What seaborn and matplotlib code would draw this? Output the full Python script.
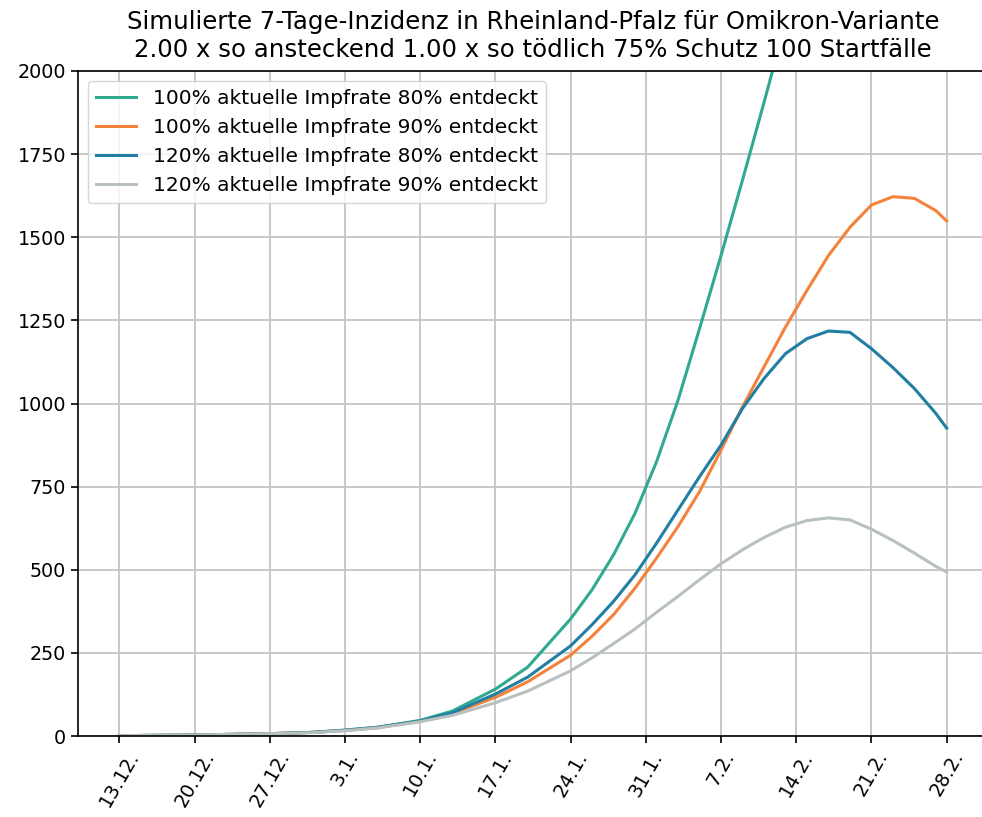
import numpy as np
import pandas as pd
import matplotlib
matplotlib.use("Agg")
import matplotlib.pyplot as plt
import seaborn as sns

# ---- data ----
start_date = "2021-12-13"
days = [0, 7, 14, 18, 21, 24, 28, 31, 35, 38, 42, 44, 46, 48, 50, 52, 54, 56, 58, 60,
        62, 64, 66, 68, 70, 72, 74, 76, 77]

green_100_80 = [1, 3, 7, 11, 18, 26, 47, 75, 141, 207, 352, 440, 545, 670, 825, 1010, 1225,
                1445, 1672, 1905, 2145,
                np.nan, np.nan, np.nan, np.nan, np.nan, np.nan, np.nan, np.nan]
orange_100_90 = [1, 3, 7, 11, 17, 25, 44, 68, 116, 163, 243, 300, 365, 445, 535, 630, 735,
                 860, 990, 1110, 1230, 1340, 1445, 1530, 1597, 1622, 1617, 1580, 1549]
blue_120_80 = [1, 3, 7, 11, 17, 26, 45, 70, 126, 177, 271, 335, 405, 485, 580, 680, 780,
               875, 985, 1075, 1150, 1195, 1218, 1214, 1165, 1108, 1045, 970, 926]
gray_120_90 = [1, 3, 7, 10, 16, 24, 43, 62, 100, 135, 196, 235, 278, 322, 372, 420, 470,
               518, 560, 597, 628, 648, 656, 650, 622, 588, 550, 510, 493]

series_labels = [
    "100% aktuelle Impfrate 80% entdeckt",
    "100% aktuelle Impfrate 90% entdeckt",
    "120% aktuelle Impfrate 80% entdeckt",
    "120% aktuelle Impfrate 90% entdeckt",
]
series_colors = ["#2fa98f", "#f5823a", "#217fa3", "#b8c1bf"]

tick_days = [0, 7, 14, 21, 28, 35, 42, 49, 56, 63, 70, 77]
y_ticks = [0, 250, 500, 750, 1000, 1250, 1500, 1750, 2000]

title_text = ("Simulierte 7-Tage-Inzidenz in Rheinland-Pfalz für Omikron-Variante\n"
              "2.00 x so ansteckend 1.00 x so tödlich 75% Schutz 100 Startfälle")

# ---- build table ----
start = pd.Timestamp(start_date)
dates = start + pd.to_timedelta(days, unit="D")
frames = []
for lab, vals in zip(series_labels, [green_100_80, orange_100_90, blue_120_80, gray_120_90]):
    frames.append(pd.DataFrame({"date": dates, "value": vals, "series": lab}))
df = pd.concat(frames, ignore_index=True).dropna()

plt.rcParams["font.family"] = ["DejaVu Sans"]
plt.rcParams["xtick.labelsize"] = 13.8
plt.rcParams["ytick.labelsize"] = 13.8

fig = plt.figure(figsize=(9.82, 8.17), dpi=100)
ax = fig.add_axes([78 / 982, 81 / 817, 910 / 982, 665 / 817])

sns.lineplot(data=df, x="date", y="value", hue="series", hue_order=series_labels,
             palette=dict(zip(series_labels, series_colors)), linewidth=2.2, ax=ax)

ax.set_ylim(0, 2000)
ax.set_yticks(y_ticks)
tick_dates = start + pd.to_timedelta(tick_days, unit="D")
ax.set_xticks(tick_dates)
ax.set_xticklabels([f"{d.day}.{d.month}." for d in tick_dates], rotation=60)
ax.set_xlabel("")
ax.set_ylabel("")
ax.grid(True, color="#c4c4c4", linewidth=1.3)
for s in ax.spines.values():
    s.set_linewidth(1.2)
ax.spines["right"].set_visible(False)
ax.tick_params(length=5, width=1.2)

ax.legend(loc="upper left", fontsize=14.5, frameon=True, handlelength=2.0)
ax.set_title(title_text, fontsize=17.6, pad=10)

fig.savefig("out.png", dpi=100)
